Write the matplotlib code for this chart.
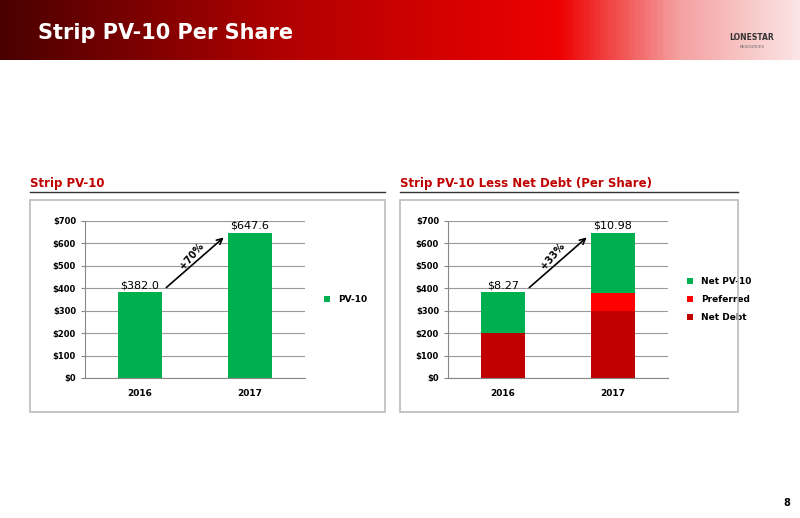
import numpy as np
import matplotlib.pyplot as plt
from matplotlib.colors import LinearSegmentedColormap
from matplotlib.patches import Rectangle

years = ['2016', '2017']
pv10 = [382.0, 647.6]
pv10_labels = ['$382.0', '$647.6']
net_debt = [202, 300]
preferred = [0, 78]
net_pv10 = [180, 269.6]
share_labels = ['$8.27', '$10.98']

W, H = 800, 518
fig = plt.figure(figsize=(8, 5.18), dpi=100)
fig.patch.set_facecolor('white')

def fx(x): return x / W
def fy(y): return 1 - y / H

# header gradient
hdr = fig.add_axes([0, fy(60), 1, 60 / H])
cmap = LinearSegmentedColormap.from_list('hdr', [(0, '#4a0000'), (0.35, '#b00000'),
                                                 (0.7, '#ee0000'), (0.85, '#f5a0a0'), (1, '#fbe4e4')])
hdr.imshow(np.linspace(0, 1, 400)[None, :], cmap=cmap, aspect='auto', extent=[0, 1, 0, 1])
hdr.axis('off')
fig.text(fx(38), fy(33), 'Strip PV-10 Per Share', color='white', fontsize=15, fontweight='bold', va='center')
fig.text(fx(752), fy(40), 'LONESTAR', color='#333333', fontsize=5.5, fontweight='bold', ha='center')
fig.text(fx(752), fy(48), 'RESOURCES', color='#666666', fontsize=3, ha='center')

# section titles and underlines
for x0, x1, t in [(30, 385, 'Strip PV-10'), (400, 738, 'Strip PV-10 Less Net Debt (Per Share)')]:
    fig.text(fx(x0), fy(184), t, color='#c00000', fontsize=8.5, fontweight='bold', va='center')
    fig.add_artist(plt.Line2D([fx(x0), fx(x1)], [fy(192), fy(192)], color='#333333', lw=1))
    fig.add_artist(Rectangle((fx(x0), fy(412)), fx(x1 - x0), (412 - 200) / H, fill=False,
                             ec='#bbbbbb', lw=1.2))

def setup(ax):
    ax.set_ylim(0, 700)
    ax.set_yticks(range(0, 701, 100))
    ax.set_yticklabels([f'${v}' for v in range(0, 701, 100)], fontsize=6, fontweight='bold')
    ax.grid(axis='y', color='#999999', lw=0.8)
    ax.set_axisbelow(True)
    for s in ['top', 'right']:
        ax.spines[s].set_visible(False)
    ax.spines['left'].set_color('#888888')
    ax.spines['bottom'].set_color('#888888')
    ax.tick_params(axis='x', length=0, labelsize=6.5, pad=8)
    ax.tick_params(axis='y', length=3, color='#888888')
    ax.set_xlim(-0.5, 1.5)
    for lab in ax.get_xticklabels():
        lab.set_fontweight('bold')

green = '#00b050'
x = np.arange(len(years))

ax1 = fig.add_axes([fx(85), fy(378), fx(220), 157 / H])
ax1.bar(x, pv10, width=0.4, color=green, label='PV-10')
ax1.set_xticks(x, years)
setup(ax1)
for i, v in enumerate(pv10):
    ax1.text(i, v + 8, pv10_labels[i], ha='center', va='bottom', fontsize=8)
ax1.annotate('', xy=(0.78, 635), xytext=(0.22, 395), arrowprops=dict(arrowstyle='->', lw=1.2, color='black'))
ax1.text(0.47, 545, '+70%', rotation=50, fontsize=7, fontweight='bold', ha='center', va='center')
ax1.legend(loc='center left', bbox_to_anchor=(1.05, 0.5), frameon=False, prop={'size': 6.5, 'weight': 'bold'},
           handlelength=0.7, handleheight=0.7)

ax2 = fig.add_axes([fx(448), fy(378), fx(220), 157 / H])
ax2.bar(x, net_debt, width=0.4, color='#c00000', label='Net Debt')
ax2.bar(x, preferred, width=0.4, bottom=net_debt, color='#ff0000', label='Preferred')
b2 = np.array(net_debt) + np.array(preferred)
ax2.bar(x, net_pv10, width=0.4, bottom=b2, color=green, label='Net PV-10')
ax2.set_xticks(x, years)
setup(ax2)
tot = b2 + np.array(net_pv10)
for i, v in enumerate(tot):
    ax2.text(i, v + 8, share_labels[i], ha='center', va='bottom', fontsize=8)
ax2.annotate('', xy=(0.78, 635), xytext=(0.22, 395), arrowprops=dict(arrowstyle='->', lw=1.2, color='black'))
ax2.text(0.45, 545, '+33%', rotation=50, fontsize=7, fontweight='bold', ha='center', va='center')
h, l = ax2.get_legend_handles_labels()
ax2.legend(h[::-1], l[::-1], loc='center left', bbox_to_anchor=(1.05, 0.5), frameon=False,
           prop={'size': 6.5, 'weight': 'bold'}, handlelength=0.7, handleheight=0.7, labelspacing=1.0)

fig.text(fx(790), fy(503), '8', fontsize=7, fontweight='bold', ha='right', va='center')

fig.savefig('out.png', dpi=100)
